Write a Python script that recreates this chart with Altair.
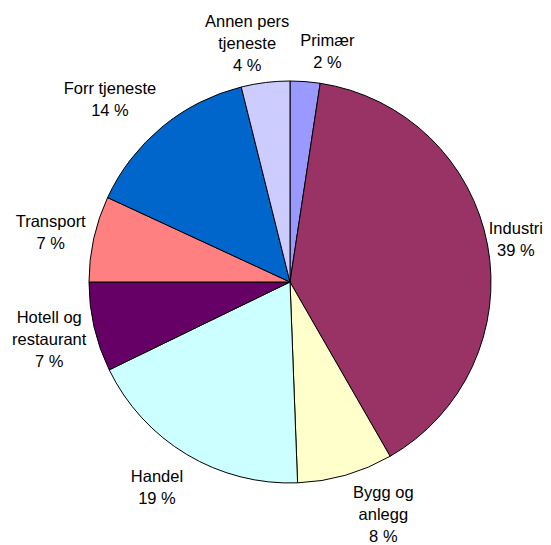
import altair as alt
import pandas as pd

categories = ["Primær", "Industri", "Bygg og anlegg", "Handel", "Hotell og restaurant",
              "Transport", "Forr tjeneste", "Annen pers tjeneste"]
values = [2.4, 39.3, 7.7, 18.4, 7.2, 6.9, 14.2, 3.9]
labels = ["Primær\n2 %", "Industri\n39 %", "Bygg og\nanlegg\n8 %", "Handel\n19 %",
          "Hotell og\nrestaurant\n7 %", "Transport\n7 %", "Forr tjeneste\n14 %",
          "Annen pers\ntjeneste\n4 %"]
colors = ["#9999FF", "#993366", "#FFFFCC", "#CCFFFF", "#660066", "#FF8080", "#0066CC", "#CCCCFF"]

df = pd.DataFrame({"cat": categories, "value": values, "label": labels,
                   "idx": list(range(len(categories)))})

LINE_H = 22
LABEL_R = 244
# layout nudges of the label boxes (dx, dy) away from the slice mid-angle point
nudges = {
    "Primær": (19, 13),
    "Industri": (-14, 3),
    "Bygg og anlegg": (26, -2),
    "Handel": (-7.5, -3),
    "Hotell og restaurant": (-3, 3),
    "Transport": (-1, 3),
    "Forr tjeneste": (-24.5, 6),
    "Annen pers tjeneste": (-13, 4),
}

base = alt.Chart(df).encode(
    theta=alt.Theta("value:Q", stack=True),
    order=alt.Order("idx:Q", sort="ascending"),
    x=alt.value(282),
    y=alt.value(274),
)

pie = base.mark_arc(radius=201, stroke="black", strokeWidth=1).encode(
    color=alt.Color("cat:N", scale=alt.Scale(domain=categories, range=colors), legend=None)
)

layers = [pie]
for cat, lab in zip(categories, labels):
    n_lines = lab.count("\n") + 1
    ndx, ndy = nudges[cat]
    layers.append(
        base.mark_text(radius=LABEL_R, dx=ndx, dy=ndy - (n_lines - 1) * LINE_H / 2,
                       fontSize=16.5, lineHeight=LINE_H, font="Liberation Sans",
                       color="black", align="center", baseline="middle",
                       lineBreak="\n").encode(
            text=alt.condition(alt.FieldEqualPredicate(field="cat", equal=cat),
                               "label:N", alt.value(""))
        )
    )

chart = alt.layer(*layers).properties(width=535, height=537, padding=0,
                                      autosize=alt.AutoSizeParams(type="none")).configure_view(stroke=None)

chart.save("out.html", embed_options={"renderer": "svg", "actions": False})
